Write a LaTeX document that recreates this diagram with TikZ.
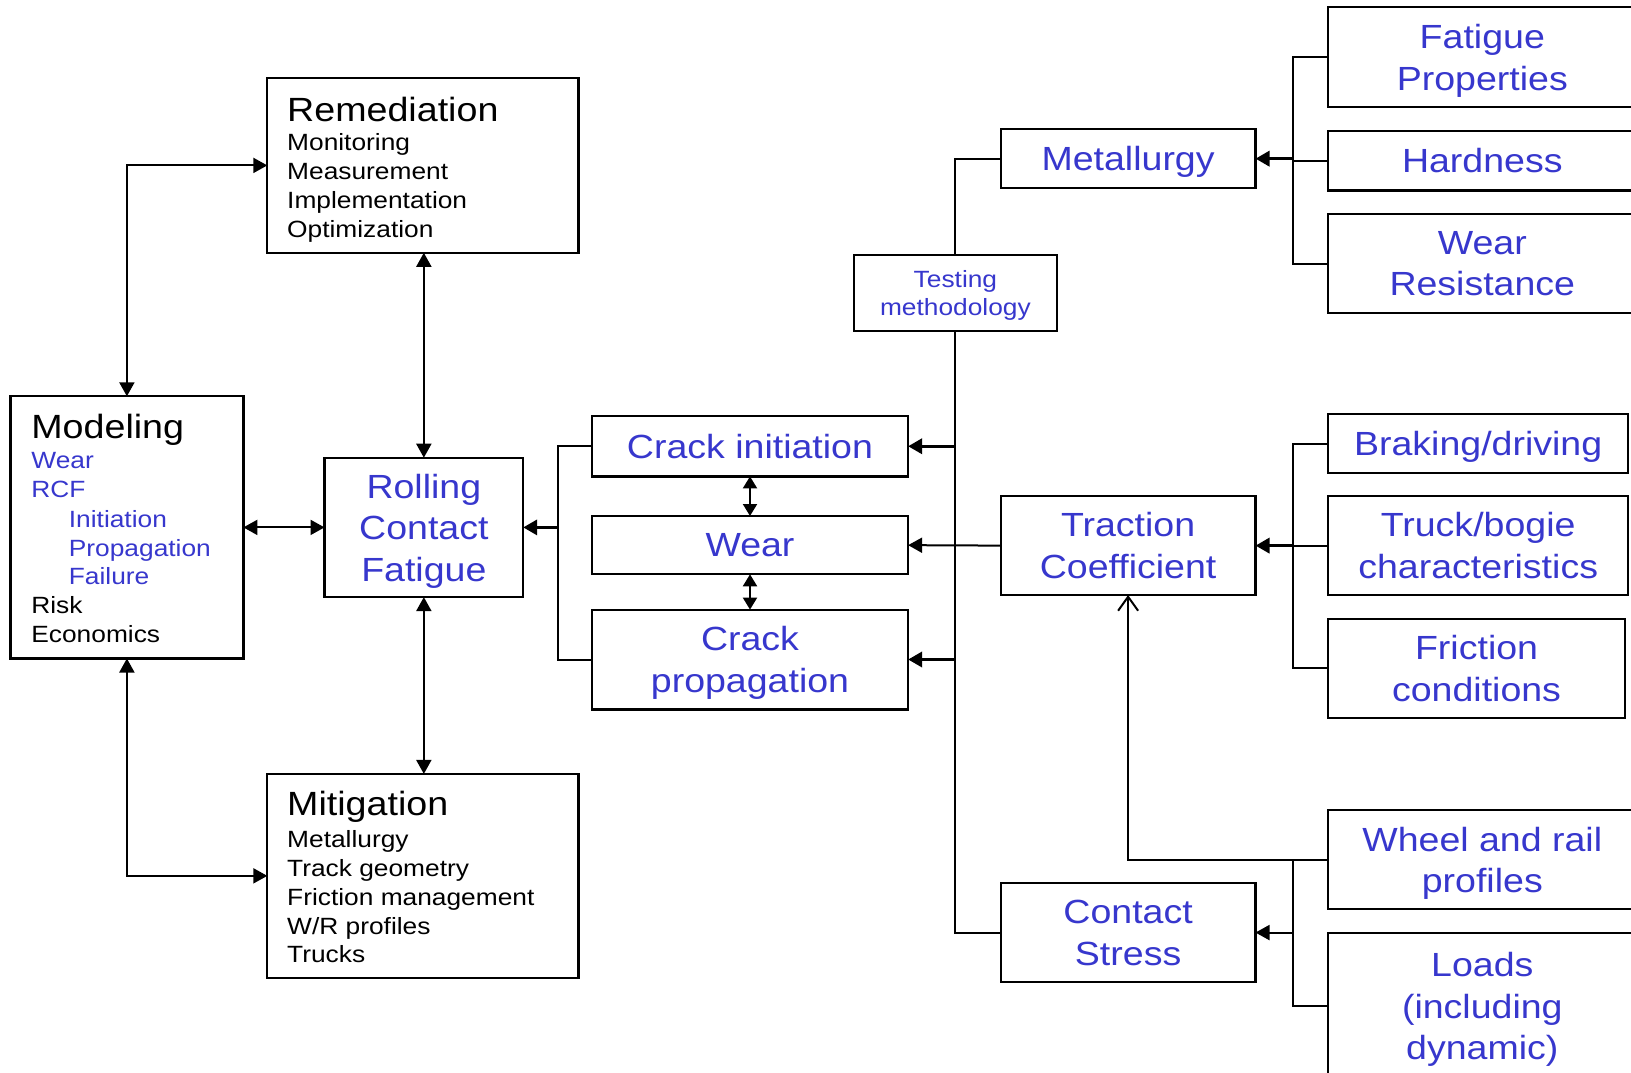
\documentclass[tikz,border=0pt]{standalone}
\usepackage{fontspec}
\setmainfont{Liberation Sans}[FakeStretch=1.12]
\usetikzlibrary{arrows.meta}
\definecolor{lblue}{RGB}{55,55,205}
\tikzset{
  box/.style={draw, line width=2.2pt, inner sep=0pt, outer sep=0pt, anchor=north west},
  big/.style={font=\fontsize{33.5}{41.5}\selectfont, text=lblue, align=center, text depth=0pt},
  hdr/.style={font=\fontsize{33.6}{40}\selectfont, anchor=base west, inner sep=0pt},
  itm/.style={font=\fontsize{23.5}{29}\selectfont, anchor=base west, inner sep=0pt},
  bl/.style={text=lblue},
  conn/.style={line width=2pt},
  thk/.style={line width=3.4pt},
  tipe/.style={-{Triangle[length=14pt,width=15pt]}},
  tipb/.style={{Triangle[length=14pt,width=15pt]}-{Triangle[length=14pt,width=15pt]}},
  tips/.style={{Triangle[length=12pt,width=14pt]}-{Triangle[length=12pt,width=14pt]}},
  opentip/.style={-{Straight Barb[length=14pt,width=20pt]}}
}
\begin{document}
\begin{tikzpicture}[x=1pt,y=-1pt]
\useasboundingbox (0,0) rectangle (1631,1072);
\fill[white] (0,0) rectangle (1631,1072);
\clip (0,0) rectangle (1631,1072);

% left boxes
\node[box, minimum width=311.1pt, minimum height=174.8pt] (rem) at (267.3,78) {};
\node[hdr] (remh) at (287,121.5) {Remediation};
\node[itm] (rem1) at (287,150.5) {Monitoring};
\node[itm] (rem2) at (287,179.5) {Measurement};
\node[itm] (rem3) at (287,208.5) {Implementation};
\node[itm] (rem4) at (287,237.5) {Optimization};

\node[box, minimum width=233pt, minimum height=262.2pt] (mod) at (10.4,396.3) {};
\node[hdr] (modh) at (31.2,438) {Modeling};
\node[itm,bl] (mod1) at (31.2,468.5) {Wear};
\node[itm,bl] (mod2) at (31.2,497) {RCF};
\node[itm,bl] (mod3) at (68.7,527) {Initiation};
\node[itm,bl] (mod4) at (68.7,556) {Propagation};
\node[itm,bl] (mod5) at (68.7,584.5) {Failure};
\node[itm] (mod6) at (31.2,613) {Risk};
\node[itm] (mod7) at (31.2,642.5) {Economics};

\node[box, minimum width=311.1pt, minimum height=203.9pt] (mit) at (267.3,773.9) {};
\node[hdr] (mith) at (287,815.5) {Mitigation};
\node[itm] (mit1) at (287,847) {Metallurgy};
\node[itm] (mit2) at (287,876) {Track geometry};
\node[itm] (mit3) at (287,905) {Friction management};
\node[itm] (mit4) at (287,934) {W/R profiles};
\node[itm] (mit5) at (287,962.5) {Trucks};

\node[box, big, minimum width=198.7pt, minimum height=139.4pt] (rcf) at (324.5,457.7) {Rolling\\Contact\\Fatigue};

% middle boxes
\node[box, big, minimum width=316.2pt, minimum height=60.3pt] (ci) at (591.9,416.1) {Crack initiation};
\node[box, big, minimum width=316.2pt, minimum height=58.3pt] (wear) at (591.9,516) {Wear};
\node[box, big, minimum width=316.2pt, minimum height=99.8pt] (cp) at (591.9,609.6) {Crack\\propagation};

\node[box, font=\fontsize{23.5}{28}\selectfont, text=lblue, align=center, text depth=0pt, minimum width=202.8pt, minimum height=76pt] (test) at (854,254.8) {Testing\\methodology};

\node[box, big, minimum width=254.8pt, minimum height=59.3pt] (met) at (1000.7,129) {Metallurgy};
\node[box, big, minimum width=254.8pt, minimum height=98.8pt] (trac) at (1000.7,496.2) {Traction\\Coefficient};
\node[box, big, minimum width=254.8pt, minimum height=98.9pt] (cs) at (1000.7,883.1) {Contact\\Stress};

% right boxes
\node[box, big, minimum width=308pt, minimum height=99.8pt] (fat) at (1328.3,7.3) {Fatigue\\Properties};
\node[box, big, minimum width=308pt, minimum height=59.3pt] (hard) at (1328.3,131.1) {Hardness};
\node[box, big, minimum width=308pt, minimum height=98.8pt] (wres) at (1328.3,214.3) {Wear\\Resistance};
\node[box, big, minimum width=299.7pt, minimum height=59.3pt] (brake) at (1328.3,414) {Braking/driving};
\node[box, big, minimum width=299.7pt, minimum height=98.8pt] (truck) at (1328.3,496.2) {Truck/bogie\\characteristics};
\node[box, big, minimum width=296.5pt, minimum height=98.7pt] (fric) at (1328.3,619) {Friction\\conditions};
\node[box, big, minimum width=308pt, minimum height=98.8pt] (wheel) at (1328.3,810.3) {Wheel and rail\\profiles};
\node[box, big, minimum width=308pt, minimum height=146pt] (loads) at (1328.3,933.1) {Loads\\(including\\dynamic)};

% coordinates for brackets
\coordinate (lbr) at (558,527.4);
\coordinate (rbr) at (1293,0);

% left connectors
\draw[conn, tipb] (rem.west) -| (mod.north);
\draw[conn, tipb] (mit.west) -| (mod.south);
\draw[conn, tipb] (rem.south -| rcf.north) -- (rcf.north);
\draw[conn, tipb] (rcf.south) -- (mit.north -| rcf.south);
\draw[conn, tipb] (mod.east) -- (rcf.west);

% crack bracket
\draw[conn] (ci.west) -| (lbr) |- (cp.west);
\draw[thk, tipe] (lbr) -- (rcf.east);
\draw[conn, tips] (ci.south) -- (wear.north);
\draw[conn, tips] (wear.south) -- (cp.north);

% trunk
\draw[conn] (met.west) -| (test.north);
\draw[conn] (test.south) |- (cs.west);
\draw[thk, tipe] (test.south |- ci.east) -- (ci.east);
\draw[thk, tipe] (test.south |- cp.east) -- (cp.east);
\draw[conn, tipe] (trac.west) -- (wear.east);

% right brackets
\draw[conn] (fat.west) -| (rbr |- fat.west) |- (wres.west);
\draw[conn] (hard.west) -- (rbr |- hard.west);
\draw[thk, tipe] (rbr |- met.east) -- (met.east);

\draw[conn] (brake.west) -| (rbr |- brake.west) |- (fric.west);
\draw[conn] (truck.west) -- (rbr |- truck.west);
\draw[thk, tipe] (rbr |- trac.east) -- (trac.east);

\draw[conn] (wheel.west) -| (rbr |- wheel.west) |- (loads.west);
\draw[conn, tipe] (rbr |- cs.east) -- (cs.east);
\draw[conn, opentip] (wheel.west) -| (trac.south);
\end{tikzpicture}
\end{document}
